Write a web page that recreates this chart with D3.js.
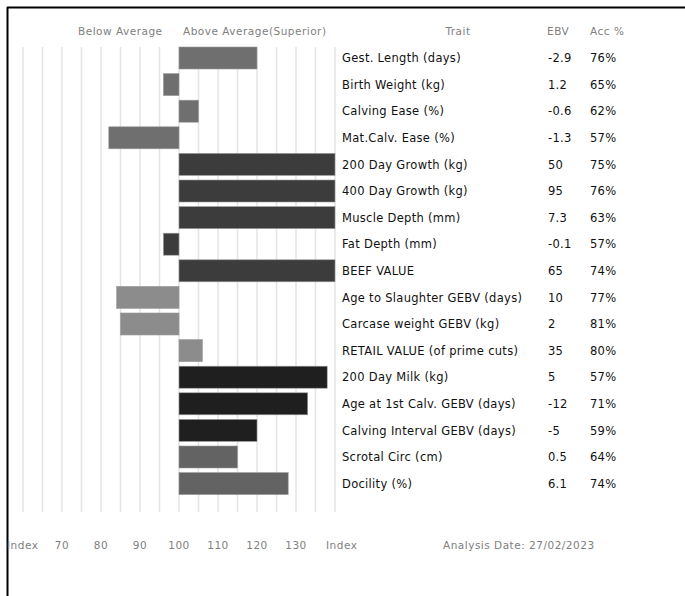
<!DOCTYPE html>
<html>
<head>
<meta charset="utf-8">
<script src="https://cdn.jsdelivr.net/npm/d3@7"></script>
<style>
  html, body { margin: 0; padding: 0; background: #fff; }
  svg { display: block; }
</style>
</head>
<body>
<svg id="chart" width="685" height="596"></svg>
<script>
// ---- Data ----
const traits = [
  "Gest. Length (days)", "Birth Weight (kg)", "Calving Ease (%)", "Mat.Calv. Ease (%)",
  "200 Day Growth (kg)", "400 Day Growth (kg)", "Muscle Depth (mm)", "Fat Depth (mm)",
  "BEEF VALUE", "Age to Slaughter GEBV (days)", "Carcase weight GEBV (kg)",
  "RETAIL VALUE (of prime cuts)", "200 Day Milk (kg)", "Age at 1st Calv. GEBV (days)",
  "Calving Interval GEBV (days)", "Scrotal Circ (cm)", "Docility (%)"
];
const indexValues = [120, 96, 105, 82, 140, 140, 140, 96, 140, 84, 85, 106, 138, 133, 120, 115, 128];
const ebv = ["-2.9", "1.2", "-0.6", "-1.3", "50", "95", "7.3", "-0.1", "65", "10", "2", "35", "5", "-12", "-5", "0.5", "6.1"];
const acc = ["76%", "65%", "62%", "57%", "75%", "76%", "63%", "57%", "74%", "77%", "81%", "80%", "57%", "71%", "59%", "64%", "74%"];
const groups = ["calving", "calving", "calving", "calving", "growth", "growth", "growth", "growth", "growth",
  "carcase", "carcase", "carcase", "maternal", "maternal", "maternal", "other", "other"];
const groupNames = ["calving", "growth", "carcase", "maternal", "other"];
const indexTicks = [70, 80, 90, 100, 110, 120, 130];
const gridValues = d3.range(60, 141, 5);
const headers = { below: "Below Average", above: "Above Average(Superior)", trait: "Trait", ebv: "EBV", acc: "Acc %" };
const analysisDate = "Analysis Date: 27/02/2023";

// ---- Layout ----
const svg = d3.select("#chart");
const x = d3.scaleLinear().domain([60, 140]).range([23, 335]).clamp(true);
const y = d3.scaleBand().domain(traits).range([47, 494.6]).paddingInner(0.173).paddingOuter(0);
const color = d3.scaleOrdinal().domain(groupNames)
  .range(["#6f6f6f", "#3c3c3c", "#8c8c8c", "#1f1f1f", "#636363"]);

const smallFont = "DejaVu Sans, Verdana, sans-serif";
const tableFont = "DejaVu Sans, Noto Sans, sans-serif";

// border
svg.append("line").attr("x1", 7.5).attr("x2", 7.5).attr("y1", 7).attr("y2", 596)
  .attr("stroke", "#000").attr("stroke-width", 2);
svg.append("line").attr("x1", 7).attr("x2", 685).attr("y1", 7.5).attr("y2", 7.5)
  .attr("stroke", "#000").attr("stroke-width", 2);

// grid lines
svg.append("g").selectAll("line").data(gridValues).join("line")
  .attr("x1", d => x(d)).attr("x2", d => x(d))
  .attr("y1", 47).attr("y2", 512)
  .attr("stroke", "#e4e4e4").attr("stroke-width", 1.5);

// bars
svg.append("g").selectAll("rect").data(traits).join("rect")
  .attr("x", (d, i) => x(Math.min(indexValues[i], 100)))
  .attr("width", (d, i) => Math.abs(x(indexValues[i]) - x(100)))
  .attr("y", d => y(d))
  .attr("height", y.bandwidth())
  .attr("fill", (d, i) => color(groups[i]))
  .attr("stroke", "#9a9a9a").attr("stroke-width", 0.6);

// headers
const hdr = svg.append("g").attr("font-family", smallFont).attr("font-size", 10.5)
  .attr("letter-spacing", 0.5).attr("fill", "#808080");
hdr.append("text").attr("x", 78).attr("y", 35).text(headers.below);
hdr.append("text").attr("x", 183).attr("y", 35).text(headers.above);
hdr.append("text").attr("x", 458).attr("y", 35).attr("text-anchor", "middle").text(headers.trait);
hdr.append("text").attr("x", 547).attr("y", 35).text(headers.ebv);
hdr.append("text").attr("x", 590).attr("y", 35).text(headers.acc);

// table
const tbl = svg.append("g").attr("font-family", tableFont).attr("font-size", 11.5)
  .attr("letter-spacing", 0.3).attr("fill", "#111");
traits.forEach((t, i) => {
  const cy = y(t) + y.bandwidth() / 2;
  tbl.append("text").attr("x", 342).attr("y", cy).attr("dy", "0.36em").text(t);
  tbl.append("text").attr("x", 548).attr("y", cy).attr("dy", "0.36em").text(ebv[i]);
  tbl.append("text").attr("x", 590).attr("y", cy).attr("dy", "0.36em").text(acc[i]);
});

// bottom axis labels
const ax = svg.append("g").attr("font-family", smallFont).attr("font-size", 10.5)
  .attr("letter-spacing", 0.5).attr("fill", "#808080");
ax.selectAll("text.tick").data(indexTicks).join("text").attr("class", "tick")
  .attr("x", d => x(d)).attr("y", 549).attr("text-anchor", "middle").text(d => d);
ax.append("text").attr("x", 7).attr("y", 549).text("Index");
ax.append("text").attr("x", 326).attr("y", 549).text("Index");
ax.append("text").attr("x", 443).attr("y", 549).text(analysisDate);
</script>
</body>
</html>
